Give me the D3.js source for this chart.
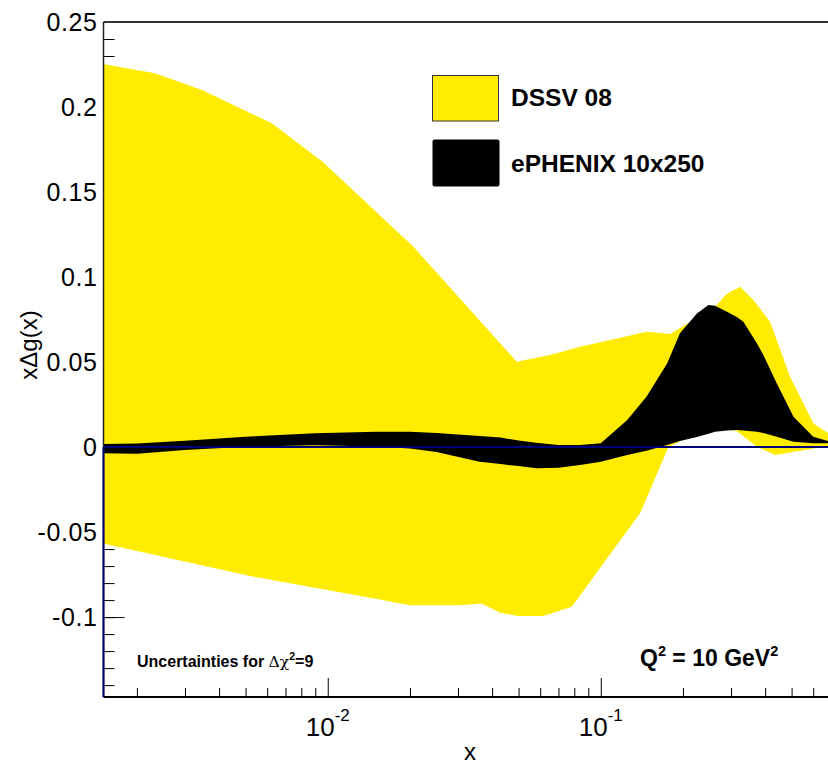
<!DOCTYPE html>
<html>
<head>
<meta charset="utf-8">
<script src="https://cdn.jsdelivr.net/npm/d3@7"></script>
<style>
  html, body { margin: 0; padding: 0; background: #fff; }
  svg { display: block; font-family: "Liberation Sans", Arial, Helvetica, sans-serif; }
</style>
</head>
<body>
<svg id="chart" width="828" height="765"></svg>
<script>
// ---------------- data ----------------
// DSSV 08 uncertainty band (upper edge)
const dssvUpperX = [0.0015, 0.00233, 0.00346, 0.00624, 0.00964, 0.0206, 0.0492, 0.0652, 0.084, 0.1474, 0.1794, 0.22, 0.266, 0.289, 0.324, 0.362, 0.417, 0.4935, 0.601, 0.7];
const dssvUpper  = [0.2253, 0.2198, 0.2100, 0.1904, 0.1673, 0.1178, 0.0502, 0.0541, 0.0590, 0.0678, 0.0665, 0.0750, 0.0835, 0.0900, 0.0943, 0.0865, 0.0737, 0.0414, 0.0139, 0.0070];
// DSSV 08 uncertainty band (lower edge)
const dssvLowerX = [0.0015, 0.0052, 0.0155, 0.0200, 0.0305, 0.0366, 0.0428, 0.0499, 0.0616, 0.0783, 0.1393, 0.1770, 0.25, 0.315, 0.3727, 0.435, 0.601, 0.7];
const dssvLower  = [-0.0567, -0.0759, -0.0896, -0.0931, -0.0931, -0.0920, -0.0975, -0.0994, -0.0994, -0.0939, -0.0390, 0.0000, 0.0120, 0.0095, 0.0002, -0.0047, -0.0008, 0.0010];
// ePHENIX 10x250 projected band
const ephenixX     = [0.0015, 0.002, 0.003, 0.005, 0.009, 0.015, 0.02, 0.025, 0.036, 0.043, 0.05, 0.058, 0.07, 0.084, 0.1, 0.125, 0.147, 0.175, 0.195, 0.225, 0.248, 0.262, 0.29, 0.315, 0.333, 0.373, 0.394, 0.441, 0.508, 0.6, 0.7];
const ephenixUpper = [0.0018, 0.0021, 0.0037, 0.0061, 0.0081, 0.0090, 0.0090, 0.0082, 0.0065, 0.0056, 0.0038, 0.0026, 0.0012, 0.0012, 0.0022, 0.0159, 0.0296, 0.0492, 0.0669, 0.0786, 0.0835, 0.0831, 0.0796, 0.0765, 0.0737, 0.0610, 0.0541, 0.0375, 0.0178, 0.0061, 0.0030];
const ephenixLower = [-0.0037, -0.0039, -0.0018, 0.0002, 0.0010, 0.0003, -0.0008, -0.0029, -0.0086, -0.0100, -0.0112, -0.0125, -0.0121, -0.0106, -0.0086, -0.0047, -0.0021, 0.0012, 0.0035, 0.0059, 0.0079, 0.0090, 0.0097, 0.0100, 0.0097, 0.0090, 0.0082, 0.0061, 0.0031, 0.0022, 0.0022];

// axes / ticks
const xDomain = [0.0015, 0.7];
const yDomain = [-0.147, 0.25];
const yMajorTicks = [-0.1, -0.05, 0, 0.05, 0.1, 0.15, 0.2, 0.25];
const yMajorLabels = ["-0.1", "-0.05", "0", "0.05", "0.1", "0.15", "0.2", "0.25"];
const yMinorTicks = d3.range(-14, 26).map(i => i / 100);
const xMajorTicks = [0.01, 0.1];
const xMajorExp = ["-2", "-1"];
const xMinorTicks = [0.002,0.003,0.004,0.005,0.006,0.007,0.008,0.009,0.02,0.03,0.04,0.05,0.06,0.07,0.08,0.09,0.2,0.3,0.4,0.5,0.6];

const legendLabels = ["DSSV 08", "ePHENIX 10x250"];
const colors = { dssv: "#ffec00", ephenix: "#000000", zero: "#00007a" };

// ---------------- layout ----------------
const L = 103.5, R = 831.5, T = 22, B = 697;
const svg = d3.select("#chart");
const x = d3.scaleLog().domain(xDomain).range([L - 0.7, R]);
const y = d3.scaleLinear().domain(yDomain).range([B, T]);

svg.append("defs").append("clipPath").attr("id", "clip")
  .append("rect").attr("x", L).attr("y", T).attr("width", R - L).attr("height", B - T);

// y ticks (drawn under the fills)
const yMinorAxis = d3.axisLeft(y).tickValues(yMinorTicks).tickSize(-11).tickFormat("");
svg.append("g").attr("transform", `translate(${L},0)`).call(yMinorAxis)
  .call(g => g.select(".domain").remove())
  .call(g => g.selectAll("line").attr("stroke", "#000").attr("stroke-width", 1));
const yMajorAxis = d3.axisLeft(y).tickValues(yMajorTicks).tickSize(-21).tickPadding(6)
  .tickFormat((d, i) => yMajorLabels[i]);
svg.append("g").attr("class", "yaxis").attr("transform", `translate(${L},0)`).call(yMajorAxis)
  .call(g => g.select(".domain").remove())
  .call(g => g.selectAll("line").attr("stroke", "#000").attr("stroke-width", 1))
  .call(g => g.selectAll("text").attr("font-size", 25).attr("fill", "#000")
        .attr("font-family", "'Liberation Sans', Arial, sans-serif").attr("letter-spacing", 0.6));

// bands
const plot = svg.append("g").attr("clip-path", "url(#clip)");
function bandPoints(xu, yu, xl, yl) {
  const up = xu.map((v, i) => [v, yu[i]]);
  const lo = xl.map((v, i) => [v, yl[i]]).reverse();
  return up.concat(lo);
}
const line = d3.line().x(d => x(d[0])).y(d => y(d[1]));
plot.append("path")
  .attr("d", line(bandPoints(dssvUpperX, dssvUpper, dssvLowerX, dssvLower)) + "Z")
  .attr("fill", colors.dssv);
plot.append("path")
  .attr("d", line(bandPoints(ephenixX, ephenixUpper, ephenixX, ephenixLower)) + "Z")
  .attr("fill", colors.ephenix);

// zero line
svg.append("line").attr("x1", L).attr("x2", R).attr("y1", y(0)).attr("y2", y(0))
  .attr("stroke", colors.zero).attr("stroke-width", 2);

// x axis
const xMinorAxis = d3.axisBottom(x).tickValues(xMinorTicks).tickSize(-9).tickFormat("");
svg.append("g").attr("transform", `translate(0,${B})`).call(xMinorAxis)
  .call(g => g.select(".domain").remove())
  .call(g => g.selectAll("line").attr("stroke", "#000").attr("stroke-width", 1));
const xMajorAxis = d3.axisBottom(x).tickValues(xMajorTicks).tickSize(-19).tickFormat("");
svg.append("g").attr("transform", `translate(0,${B})`).call(xMajorAxis)
  .call(g => g.select(".domain").remove())
  .call(g => g.selectAll("line").attr("stroke", "#000").attr("stroke-width", 1));
xMajorTicks.forEach((t, i) => {
  const tx = svg.append("text").attr("x", x(t) - 22).attr("y", 736)
    .attr("font-size", 26).attr("fill", "#000");
  tx.append("tspan").text("10");
  tx.append("tspan").attr("dy", -15).attr("font-size", 17).text(xMajorExp[i]);
});

// frame lines
svg.append("line").attr("x1", L).attr("x2", 828).attr("y1", B).attr("y2", B)
  .attr("stroke", "#000").attr("stroke-width", 2);
svg.append("line").attr("x1", L).attr("x2", 828).attr("y1", T).attr("y2", T)
  .attr("stroke", "#333").attr("stroke-width", 2);
svg.append("line").attr("x1", L).attr("x2", L).attr("y1", T).attr("y2", B)
  .attr("stroke", "#222").attr("stroke-width", 1.5);
svg.append("line").attr("x1", L).attr("x2", L).attr("y1", y(0)).attr("y2", B)
  .attr("stroke", colors.zero).attr("stroke-width", 2);

// axis titles
svg.append("text").attr("x", 470).attr("y", 760).attr("text-anchor", "middle")
  .attr("font-size", 24).text("x");
svg.append("text").attr("transform", "translate(37,345) rotate(-90)")
  .attr("text-anchor", "middle").attr("font-size", 24).text("xΔg(x)");

// legend
const legend = svg.append("g");
legend.append("rect").attr("x", 432.5).attr("y", 75.5).attr("width", 66).attr("height", 45.5)
  .attr("fill", colors.dssv).attr("stroke", "#333").attr("stroke-width", 1);
legend.append("rect").attr("x", 432.5).attr("y", 139.5).attr("width", 67).attr("height", 47)
  .attr("fill", colors.ephenix).attr("rx", 2);
legend.append("text").attr("x", 511).attr("y", 106).attr("font-size", 24.5).attr("font-weight", "bold")
  .text(legendLabels[0]);
legend.append("text").attr("x", 511).attr("y", 172).attr("font-size", 24.5).attr("font-weight", "bold")
  .text(legendLabels[1]);

// annotations
const ann = svg.append("text").attr("x", 137).attr("y", 667).attr("font-size", 16).attr("font-weight", "bold");
ann.append("tspan").text("Uncertainties for ");
ann.append("tspan").attr("font-weight", "normal").attr("font-family", "'DejaVu Serif', serif").attr("font-size", 15.5).text("Δχ");
ann.append("tspan").attr("dy", -7).attr("font-size", 10.5).text("2");
ann.append("tspan").attr("dy", 7).text("=9");

const q = svg.append("text").attr("x", 640).attr("y", 666).attr("font-size", 23).attr("font-weight", "bold");
q.append("tspan").text("Q");
q.append("tspan").attr("dy", -10).attr("font-size", 14.5).text("2");
q.append("tspan").attr("dy", 10).text(" = 10 GeV");
q.append("tspan").attr("dy", -10).attr("font-size", 14.5).text("2");
</script>
</body>
</html>
